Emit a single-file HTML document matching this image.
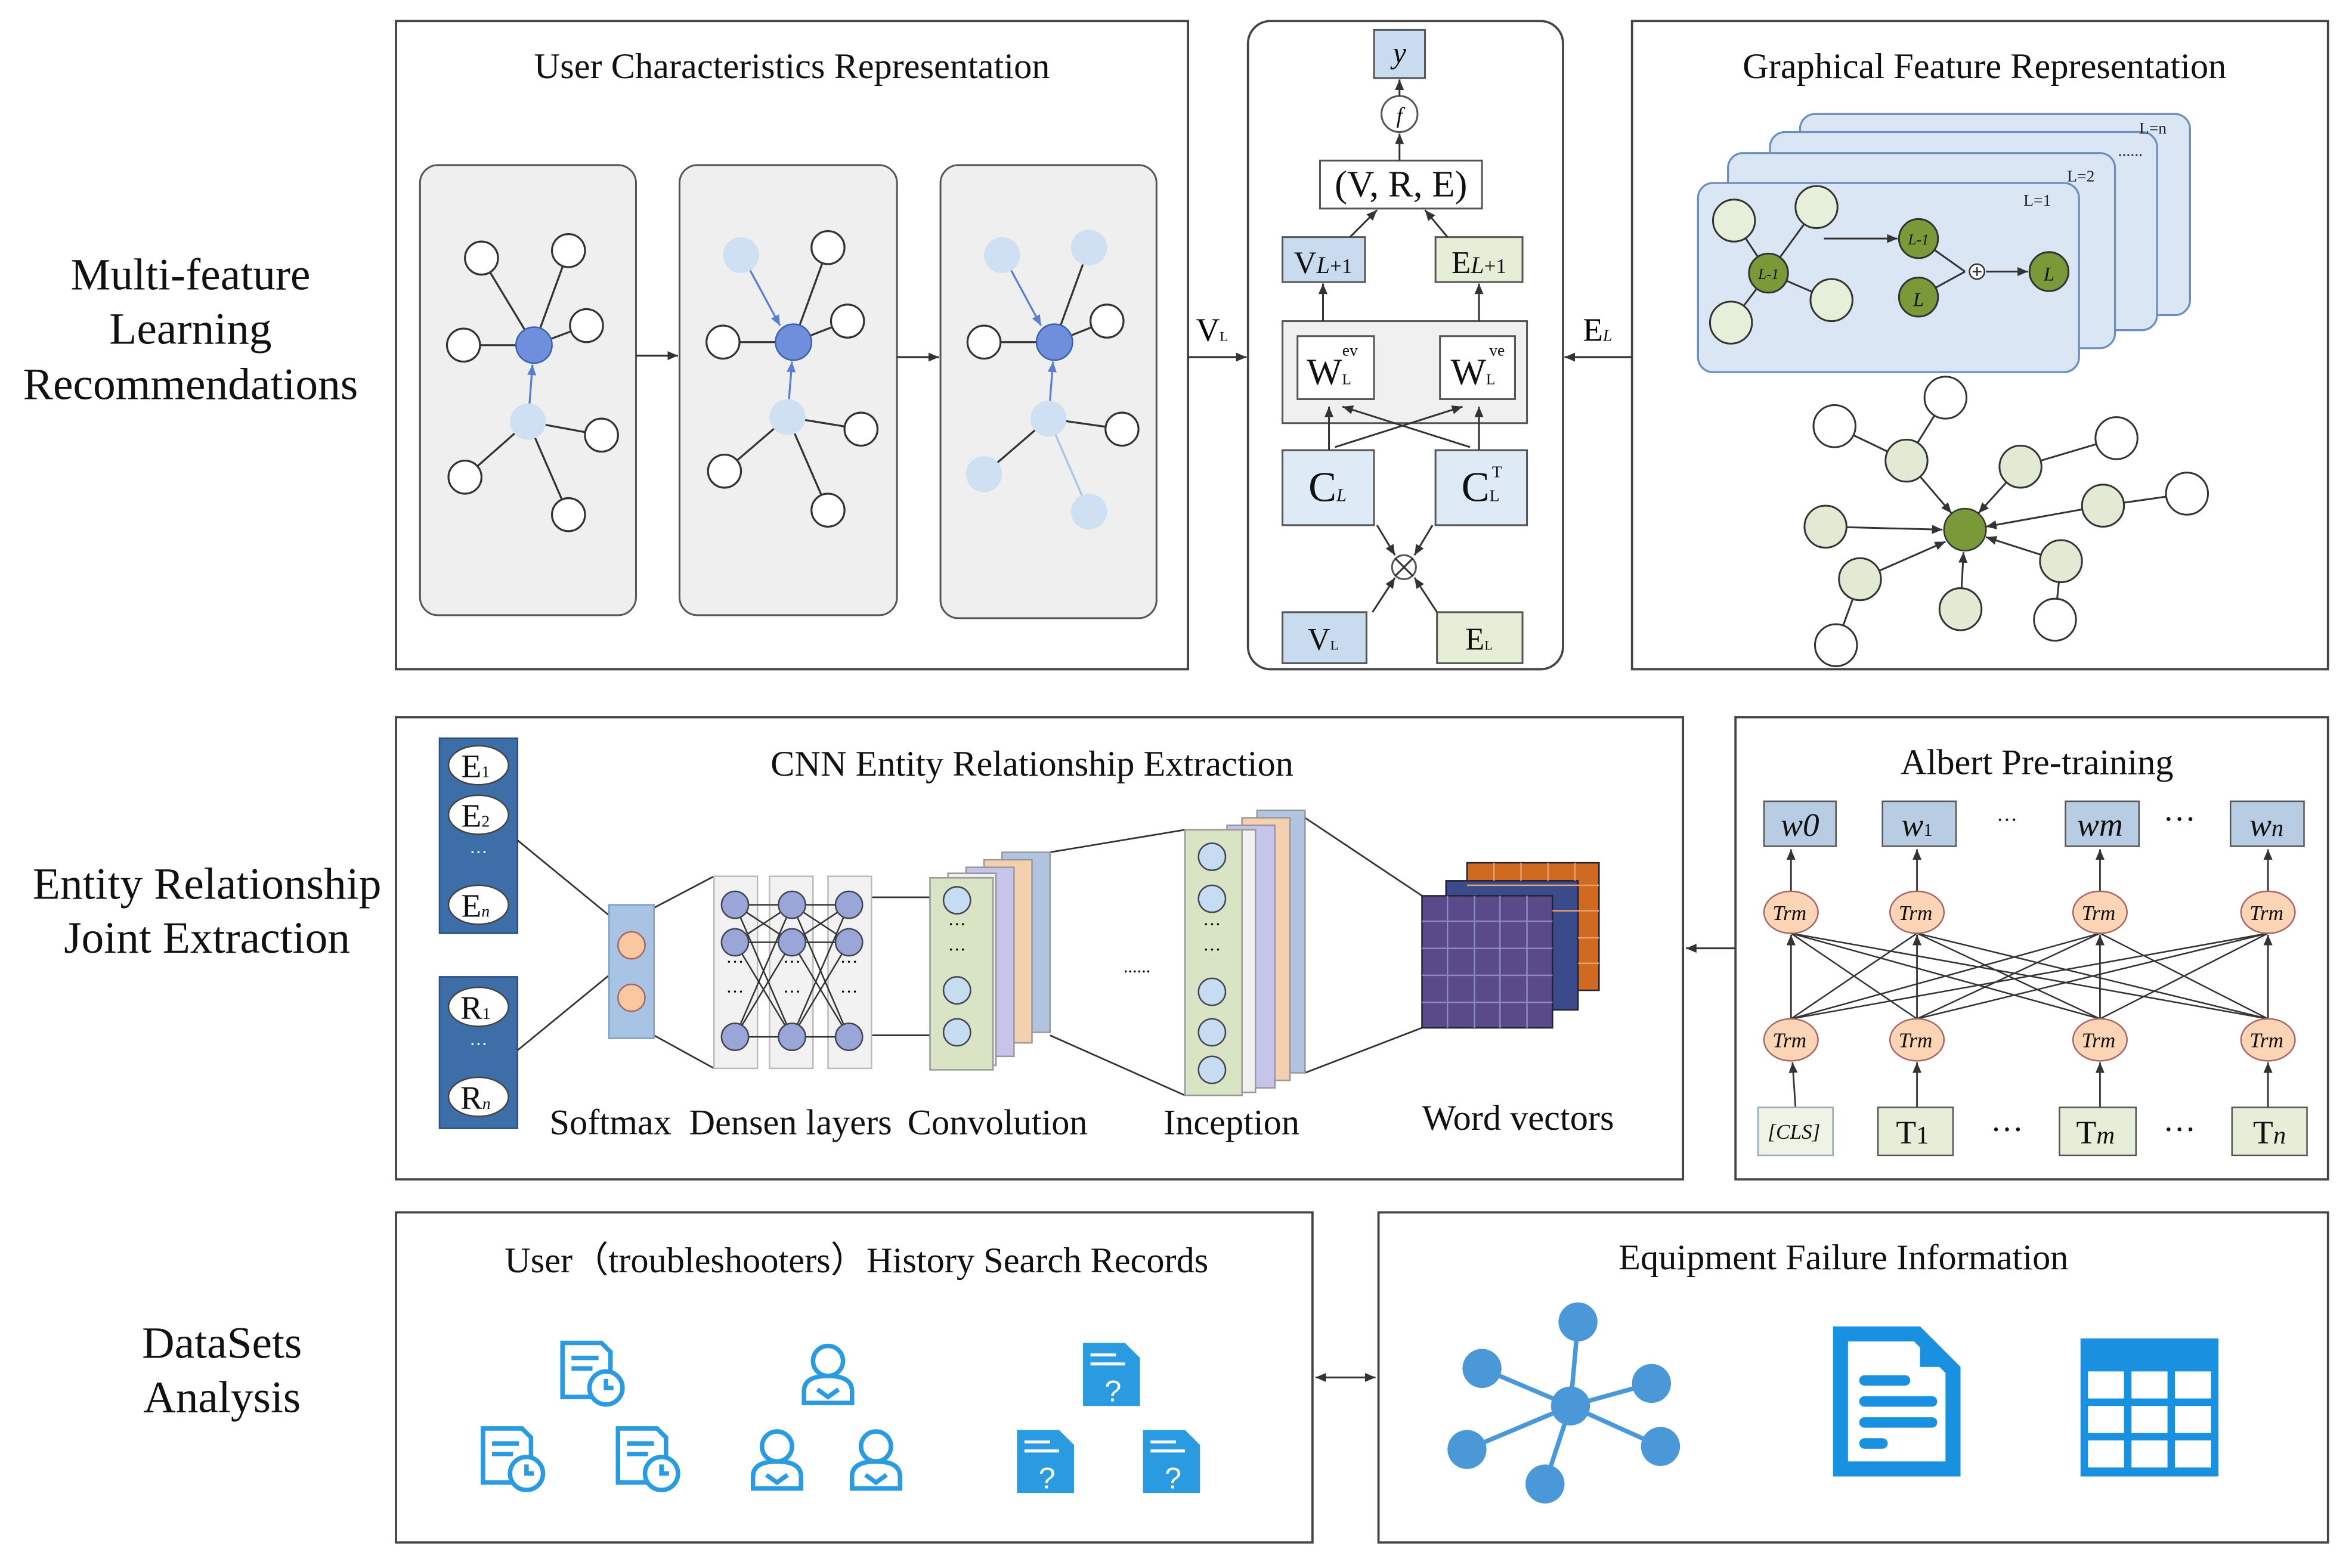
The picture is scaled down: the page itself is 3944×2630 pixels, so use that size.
<!DOCTYPE html>
<html><head><meta charset="utf-8"><style>html,body{margin:0;padding:0;background:#fff}svg{display:block}</style></head>
<body>
<svg width="3944" height="2630" viewBox="0 0 1568 1045" preserveAspectRatio="none" xmlns="http://www.w3.org/2000/svg" font-family="Liberation Serif, serif">
<defs>
<marker id="a" markerWidth="8" markerHeight="8" refX="7" refY="4" orient="auto" markerUnits="userSpaceOnUse"><path d="M0,1 L7,4 L0,7 z" fill="#333"/></marker>
<marker id="ab" markerWidth="8" markerHeight="8" refX="7" refY="4" orient="auto" markerUnits="userSpaceOnUse"><path d="M0,1 L7,4 L0,7 z" fill="#5a7fd0"/></marker>
<marker id="as" markerWidth="8" markerHeight="8" refX="1" refY="4" orient="auto" markerUnits="userSpaceOnUse"><path d="M8,1 L1,4 L8,7 z" fill="#333"/></marker>
</defs>
<g font-size="30" text-anchor="middle" fill="#111">
<text x="127" y="193">Multi-feature</text><text x="127" y="229">Learning</text><text x="127" y="266">Recommendations</text>
<text x="138" y="599">Entity Relationship</text><text x="138" y="635">Joint Extraction</text>
<text x="148" y="905">DataSets</text><text x="148" y="941">Analysis</text>
</g>
<g fill="none" stroke="#444" stroke-width="1.5">
<rect x="264" y="14" width="528" height="432"/>
<rect x="832" y="14" width="210" height="432" rx="15"/>
<rect x="1088" y="14" width="464" height="432"/>
<rect x="264" y="478" width="858" height="308"/>
<rect x="1157" y="478" width="395" height="308"/>
<rect x="264" y="808" width="611" height="220"/>
<rect x="919" y="808" width="633" height="220"/>
</g>
<g font-size="24" text-anchor="middle" fill="#111">
<text x="528" y="52">User Characteristics Representation</text>
<text x="1323" y="52">Graphical Feature Representation</text>
<text x="688" y="517">CNN Entity Relationship Extraction</text>
<text x="1358" y="516">Albert Pre-training</text>
<text x="571" y="848">User（troubleshooters）History Search Records</text>
<text x="1229" y="846">Equipment  Failure Information</text>
</g>
<g fill="#efefef" stroke="#555" stroke-width="1.2">
<rect x="280" y="110" width="144" height="300" rx="12"/>
<rect x="453" y="110" width="145" height="300" rx="12"/>
<rect x="627" y="110" width="144" height="302" rx="12"/>
</g>
<g stroke="#333" stroke-width="1.3">
<line x1="356" y1="230" x2="321" y2="172"/><line x1="356" y1="230" x2="379" y2="167"/><line x1="356" y1="230" x2="309" y2="230"/><line x1="356" y1="230" x2="391" y2="217"/>
<line x1="352" y1="281" x2="401" y2="290"/><line x1="352" y1="281" x2="310" y2="318"/><line x1="352" y1="281" x2="379" y2="343"/>
<line x1="529" y1="228" x2="552" y2="165"/><line x1="529" y1="228" x2="482" y2="228"/><line x1="529" y1="228" x2="565" y2="214"/>
<line x1="525" y1="278" x2="574" y2="286"/><line x1="525" y1="278" x2="483" y2="314"/><line x1="525" y1="278" x2="552" y2="340"/>
<line x1="703" y1="228" x2="726" y2="165"/><line x1="703" y1="228" x2="656" y2="228"/><line x1="703" y1="228" x2="738" y2="214"/>
<line x1="699" y1="279" x2="748" y2="286"/><line x1="699" y1="279" x2="656" y2="316"/>
</g>
<line x1="699" y1="279" x2="726" y2="341" stroke="#a8c4e6" stroke-width="1.3"/>
<g stroke="#5a7fd0" stroke-width="1.3" marker-end="url(#ab)">
<line x1="353" y1="269" x2="355" y2="243"/><line x1="526" y1="266" x2="528" y2="241"/><line x1="700" y1="267" x2="702" y2="241"/>
<line x1="500" y1="180" x2="520" y2="217"/><line x1="674" y1="180" x2="694" y2="217"/>
</g>
<g fill="#fff" stroke="#333" stroke-width="1.3">
<circle cx="321" cy="172" r="11"/><circle cx="379" cy="167" r="11"/><circle cx="309" cy="230" r="11"/><circle cx="391" cy="217" r="11"/><circle cx="401" cy="290" r="11"/><circle cx="310" cy="318" r="11"/><circle cx="379" cy="343" r="11"/>
<circle cx="552" cy="165" r="11"/><circle cx="482" cy="228" r="11"/><circle cx="565" cy="214" r="11"/><circle cx="574" cy="286" r="11"/><circle cx="483" cy="314" r="11"/><circle cx="552" cy="340" r="11"/>
<circle cx="656" cy="228" r="11"/><circle cx="738" cy="214" r="11"/><circle cx="748" cy="286" r="11"/>
</g>
<g fill="#cfe0f2">
<circle cx="352" cy="281" r="12"/><circle cx="525" cy="278" r="12"/><circle cx="494" cy="170" r="12"/>
<circle cx="699" cy="279" r="12"/><circle cx="668" cy="170" r="12"/><circle cx="726" cy="165" r="12"/><circle cx="656" cy="316" r="12"/><circle cx="726" cy="341" r="12"/>
</g>
<g fill="#6f8fdc" stroke="#3e5fae"><circle cx="356" cy="230" r="12"/><circle cx="529" cy="228" r="12"/><circle cx="703" cy="228" r="12"/></g>
<g stroke="#333" stroke-width="1.3" marker-end="url(#a)">
<line x1="424" y1="237" x2="452" y2="237"/><line x1="598" y1="238" x2="626" y2="238"/>
<line x1="792" y1="238" x2="831" y2="238"/><line x1="1088" y1="238" x2="1043" y2="238"/>
</g>
<text x="808" y="227" font-size="22" text-anchor="middle">V<tspan font-size="9">L</tspan></text>
<text x="1065" y="227" font-size="22" text-anchor="middle">E<tspan font-size="11" font-style="italic">L</tspan></text>
<g stroke="#555" stroke-width="1.2">
<rect x="916" y="20" width="34" height="32" fill="#c9dbef"/>
<circle cx="933" cy="76" r="12" fill="#fff"/>
<rect x="880" y="107" width="108" height="32" fill="#fff"/>
<rect x="855" y="158" width="55" height="30" fill="#c9dbef"/>
<rect x="957" y="158" width="58" height="30" fill="#e6eed8"/>
<rect x="855" y="214" width="163" height="68" fill="#f0f0f0"/>
<rect x="865" y="224" width="51" height="42" fill="#fff"/>
<rect x="960" y="224" width="50" height="42" fill="#fff"/>
<rect x="855" y="300" width="61" height="50" fill="#deeaf6"/>
<rect x="957" y="300" width="61" height="50" fill="#deeaf6"/>
<circle cx="936" cy="378" r="8" fill="#fff"/>
<rect x="855" y="408" width="56" height="34" fill="#c9dbef"/>
<rect x="958" y="408" width="57" height="34" fill="#e6eed8"/>
</g>
<g stroke="#333" stroke-width="1.2">
<line x1="930" y1="372" x2="942" y2="384"/><line x1="942" y1="372" x2="930" y2="384"/>
</g>
<g stroke="#333" stroke-width="1.2" marker-end="url(#a)">
<line x1="933" y1="64" x2="933" y2="53"/>
<line x1="933" y1="107" x2="933" y2="89"/>
<line x1="900" y1="158" x2="918" y2="140"/><line x1="965" y1="158" x2="950" y2="140"/>
<line x1="882" y1="214" x2="882" y2="189"/><line x1="986" y1="214" x2="986" y2="189"/>
<line x1="886" y1="300" x2="886" y2="271"/><line x1="986" y1="300" x2="986" y2="271"/>
<line x1="890" y1="298" x2="975" y2="271"/><line x1="980" y1="298" x2="895" y2="271"/>
<line x1="918" y1="350" x2="930" y2="370"/><line x1="955" y1="350" x2="943" y2="370"/>
<line x1="915" y1="408" x2="930" y2="385"/><line x1="958" y1="408" x2="943" y2="385"/>
</g>
<g text-anchor="middle" fill="#111">
<text x="933" y="42" font-size="20" font-style="italic">y</text>
<text x="933" y="82" font-size="15" font-style="italic">f</text>
<text x="934" y="131" font-size="25">(V, R, E)</text>
<text x="882" y="182" font-size="21">V<tspan font-style="italic" font-size="16">L</tspan><tspan font-size="14">+1</tspan></text>
<text x="986" y="182" font-size="21">E<tspan font-style="italic" font-size="16">L</tspan><tspan font-size="14">+1</tspan></text>
<text x="886" y="256" font-size="25">W<tspan font-size="10">L</tspan></text><text x="900" y="237" font-size="11">ev</text>
<text x="982" y="256" font-size="25">W<tspan font-size="10">L</tspan></text><text x="998" y="237" font-size="11">ve</text>
<text x="885" y="334" font-size="28">C<tspan font-size="12" font-style="italic">L</tspan></text>
<text x="987" y="334" font-size="28">C<tspan font-size="11">L</tspan></text><text x="998" y="318" font-size="11">T</text>
<text x="882" y="433" font-size="21">V<tspan font-size="9">L</tspan></text>
<text x="986" y="433" font-size="21">E<tspan font-size="9">L</tspan></text>
</g>
<g fill="#dae6f3" stroke="#6c8ebf" stroke-width="1.3">
<rect x="1200" y="76" width="260" height="134" rx="10"/>
<rect x="1180" y="88" width="258" height="132" rx="10"/>
<rect x="1152" y="102" width="258" height="130" rx="10"/>
<rect x="1132" y="122" width="254" height="126" rx="10"/>
</g>
<g font-size="11" fill="#222"><text x="1426" y="89">L=n</text><text x="1412" y="104">......</text><text x="1378" y="121">L=2</text><text x="1349" y="137">L=1</text></g>
<g stroke="#333" stroke-width="1.2">
<line x1="1179" y1="182" x2="1156" y2="147"/><line x1="1179" y1="182" x2="1211" y2="138"/><line x1="1179" y1="182" x2="1154" y2="215"/><line x1="1179" y1="182" x2="1221" y2="200"/>
<line x1="1279" y1="198" x2="1310" y2="181"/><line x1="1279" y1="159" x2="1310" y2="181"/>
</g>
<g stroke="#333" stroke-width="1.2" marker-end="url(#a)"><line x1="1216" y1="159" x2="1265" y2="159"/><line x1="1324" y1="181" x2="1352" y2="181"/></g>
<circle cx="1318" cy="181" r="5" fill="#fff" stroke="#333"/>
<line x1="1315" y1="181" x2="1321" y2="181" stroke="#333"/><line x1="1318" y1="178" x2="1318" y2="184" stroke="#333"/>
<g fill="#e6efd9" stroke="#333" stroke-width="1.2"><circle cx="1156" cy="147" r="14"/><circle cx="1211" cy="138" r="14"/><circle cx="1154" cy="215" r="14"/><circle cx="1221" cy="200" r="14"/></g>
<g fill="#7a9a3a" stroke="#333" stroke-width="1.2"><circle cx="1179" cy="182" r="13"/><circle cx="1279" cy="159" r="13"/><circle cx="1279" cy="198" r="13"/><circle cx="1366" cy="181" r="13"/></g>
<g font-size="13" font-style="italic" text-anchor="middle" fill="#111"><text x="1179" y="186" font-size="10">L-1</text><text x="1279" y="163" font-size="10">L-1</text><text x="1279" y="204">L</text><text x="1366" y="187">L</text></g>
<g stroke="#333" stroke-width="1.2">
<line x1="1271" y1="307" x2="1297" y2="265"/><line x1="1271" y1="307" x2="1223" y2="284"/><line x1="1347" y1="311" x2="1411" y2="292"/><line x1="1402" y1="337" x2="1458" y2="329"/><line x1="1374" y1="374" x2="1370" y2="413"/><line x1="1240" y1="386" x2="1224" y2="430"/>
</g>
<g stroke="#333" stroke-width="1.2" marker-end="url(#a)">
<line x1="1271" y1="307" x2="1301" y2="342"/><line x1="1347" y1="311" x2="1319" y2="342"/><line x1="1402" y1="337" x2="1324" y2="351"/><line x1="1374" y1="374" x2="1324" y2="358"/><line x1="1307" y1="406" x2="1309" y2="368"/><line x1="1240" y1="386" x2="1297" y2="361"/><line x1="1217" y1="351" x2="1295" y2="353"/>
</g>
<g fill="#e2ead4" stroke="#333" stroke-width="1.2"><circle cx="1271" cy="307" r="14"/><circle cx="1347" cy="311" r="14"/><circle cx="1402" cy="337" r="14"/><circle cx="1374" cy="374" r="14"/><circle cx="1307" cy="406" r="14"/><circle cx="1240" cy="386" r="14"/><circle cx="1217" cy="351" r="14"/></g>
<g fill="#fff" stroke="#333" stroke-width="1.2"><circle cx="1297" cy="265" r="14"/><circle cx="1223" cy="284" r="14"/><circle cx="1411" cy="292" r="14"/><circle cx="1458" cy="329" r="14"/><circle cx="1370" cy="413" r="14"/><circle cx="1224" cy="430" r="14"/></g>
<circle cx="1310" cy="353" r="14" fill="#7a9a3a" stroke="#333"/>
<rect x="293" y="492" width="52" height="130" fill="#3d6ea8" stroke="#2a4f80"/>
<rect x="293" y="651" width="52" height="101" fill="#3d6ea8" stroke="#2a4f80"/>
<g fill="#fff" stroke="#444"><ellipse cx="319" cy="510" rx="20" ry="13"/><ellipse cx="319" cy="543" rx="20" ry="13"/><ellipse cx="319" cy="603" rx="20" ry="13"/><ellipse cx="319" cy="671" rx="20" ry="13"/><ellipse cx="319" cy="731" rx="20" ry="13"/></g>
<g font-size="22" text-anchor="middle" fill="#111"><text x="317" y="518">E<tspan font-size="11">1</tspan></text><text x="317" y="551">E<tspan font-size="11">2</tspan></text><text x="317" y="611">E<tspan font-size="11" font-style="italic">n</tspan></text><text x="317" y="679">R<tspan font-size="11">1</tspan></text><text x="317" y="739">R<tspan font-size="11" font-style="italic">n</tspan></text></g>
<g fill="#fff" font-size="12" text-anchor="middle"><text x="319" y="572">···</text><text x="319" y="700">···</text></g>
<g stroke="#333" stroke-width="1.1" fill="none">
<line x1="345" y1="560" x2="406" y2="610"/><line x1="345" y1="700" x2="406" y2="650"/>
<line x1="436" y1="605" x2="476" y2="584"/><line x1="436" y1="690" x2="476" y2="712"/>
<line x1="581" y1="598" x2="620" y2="598"/><line x1="581" y1="690" x2="620" y2="690"/>
<line x1="700" y1="568" x2="790" y2="553"/><line x1="700" y1="690" x2="790" y2="730"/>
<line x1="870" y1="545" x2="948" y2="597"/><line x1="870" y1="715" x2="948" y2="685"/>
</g>
<rect x="406" y="603" width="30" height="89" fill="#a7c4e4" stroke="#7f9fc6"/>
<g fill="#f9c8a0" stroke="#a66"><circle cx="421" cy="630" r="9"/><circle cx="421" cy="665" r="9"/></g>
<g fill="#f2f2f2" stroke="#bbb"><rect x="476" y="584" width="29" height="128"/><rect x="513" y="584" width="29" height="128"/><rect x="552" y="584" width="29" height="128"/></g>
<g stroke="#333" stroke-width="1">
<line x1="490" y1="603" x2="528" y2="691"/><line x1="490" y1="691" x2="528" y2="603"/><line x1="490" y1="628" x2="528" y2="691"/><line x1="490" y1="691" x2="528" y2="628"/><line x1="490" y1="603" x2="528" y2="628"/><line x1="490" y1="628" x2="528" y2="603"/>
<line x1="528" y1="603" x2="566" y2="691"/><line x1="528" y1="691" x2="566" y2="603"/><line x1="528" y1="628" x2="566" y2="691"/><line x1="528" y1="691" x2="566" y2="628"/><line x1="528" y1="603" x2="566" y2="628"/><line x1="528" y1="628" x2="566" y2="603"/>
<line x1="490" y1="603" x2="566" y2="603"/><line x1="490" y1="628" x2="566" y2="628"/><line x1="490" y1="691" x2="566" y2="691"/>
</g>
<g fill="#9aa6d8" stroke="#445"><circle cx="490" cy="603" r="9"/><circle cx="490" cy="628" r="9"/><circle cx="490" cy="691" r="9"/><circle cx="528" cy="603" r="9"/><circle cx="528" cy="628" r="9"/><circle cx="528" cy="691" r="9"/><circle cx="566" cy="603" r="9"/><circle cx="566" cy="628" r="9"/><circle cx="566" cy="691" r="9"/></g>
<g font-size="12" text-anchor="middle"><text x="490" y="665">···</text><text x="528" y="665">···</text><text x="566" y="665">···</text><text x="490" y="645">···</text><text x="528" y="645">···</text><text x="566" y="645">···</text></g>
<g stroke="#999"><rect x="668" y="568" width="32" height="120" fill="#b0c4e0"/><rect x="656" y="573" width="32" height="122" fill="#f4cfb0"/><rect x="644" y="578" width="32" height="126" fill="#c6c4ea"/><rect x="632" y="582" width="32" height="128" fill="#f0f0f0"/><rect x="620" y="585" width="42" height="128" fill="#d9e4c4"/></g>
<g fill="#c6dcf0" stroke="#445"><circle cx="638" cy="600" r="9"/><circle cx="638" cy="660" r="9"/><circle cx="638" cy="688" r="9"/></g>
<g font-size="12" text-anchor="middle"><text x="638" y="620">···</text><text x="638" y="637">···</text></g>
<g stroke="#999"><rect x="838" y="540" width="32" height="175" fill="#b0c4e0"/><rect x="828" y="545" width="32" height="175" fill="#f4cfb0"/><rect x="818" y="550" width="32" height="175" fill="#c6c4ea"/><rect x="805" y="553" width="32" height="175" fill="#f0f0f0"/><rect x="790" y="553" width="38" height="177" fill="#d9e4c4"/></g>
<g fill="#c6dcf0" stroke="#445"><circle cx="808" cy="571" r="9"/><circle cx="808" cy="599" r="9"/><circle cx="808" cy="661" r="9"/><circle cx="808" cy="688" r="9"/><circle cx="808" cy="713" r="9"/></g>
<g font-size="12" text-anchor="middle"><text x="808" y="620">···</text><text x="808" y="637">···</text><text x="758" y="648">......</text></g>
<rect x="978" y="575" width="88" height="85" fill="#d06a20" stroke="#223"/>
<rect x="964" y="587" width="88" height="86" fill="#3a4a8a" stroke="#223"/>
<rect x="948" y="597" width="87" height="88" fill="#5a4a8a" stroke="#223"/>
<g stroke="#8a88c0" stroke-width="1"><line x1="948" y1="614" x2="1035" y2="614"/><line x1="948" y1="632" x2="1035" y2="632"/><line x1="948" y1="650" x2="1035" y2="650"/><line x1="948" y1="668" x2="1035" y2="668"/><line x1="965" y1="597" x2="965" y2="685"/><line x1="983" y1="597" x2="983" y2="685"/><line x1="1000" y1="597" x2="1000" y2="685"/><line x1="1018" y1="597" x2="1018" y2="685"/></g>
<g stroke="#e8a070" stroke-width="1"><line x1="978" y1="590" x2="1066" y2="590"/><line x1="1035" y1="607" x2="1066" y2="607"/><line x1="1052" y1="625" x2="1066" y2="625"/><line x1="1052" y1="642" x2="1066" y2="642"/><line x1="996" y1="575" x2="996" y2="587"/><line x1="1014" y1="575" x2="1014" y2="587"/><line x1="1032" y1="575" x2="1032" y2="587"/><line x1="1050" y1="575" x2="1050" y2="587"/></g>
<g font-size="24" text-anchor="middle" fill="#111"><text x="407" y="756">Softmax</text><text x="527" y="756">Densen layers</text><text x="665" y="756">Convolution</text><text x="821" y="756">Inception</text><text x="1012" y="753">Word vectors</text></g>
<line x1="1157" y1="632" x2="1124" y2="632" stroke="#333" stroke-width="1.2" marker-end="url(#a)"/>
<g stroke="#333" stroke-width="1">
<line x1="1194" y1="622" x2="1278" y2="679"/><line x1="1194" y1="622" x2="1400" y2="679"/><line x1="1194" y1="622" x2="1512" y2="679"/>
<line x1="1278" y1="622" x2="1194" y2="679"/><line x1="1278" y1="622" x2="1400" y2="679"/><line x1="1278" y1="622" x2="1512" y2="679"/>
<line x1="1400" y1="622" x2="1194" y2="679"/><line x1="1400" y1="622" x2="1278" y2="679"/><line x1="1400" y1="622" x2="1512" y2="679"/>
<line x1="1512" y1="622" x2="1194" y2="679"/><line x1="1512" y1="622" x2="1278" y2="679"/><line x1="1512" y1="622" x2="1400" y2="679"/>
</g>
<g stroke="#333" stroke-width="1.1" marker-end="url(#a)">
<line x1="1194" y1="594" x2="1194" y2="566"/><line x1="1278" y1="594" x2="1278" y2="566"/><line x1="1400" y1="594" x2="1400" y2="566"/><line x1="1512" y1="594" x2="1512" y2="566"/>
<line x1="1194" y1="679" x2="1194" y2="623"/><line x1="1278" y1="679" x2="1278" y2="623"/><line x1="1400" y1="679" x2="1400" y2="623"/><line x1="1512" y1="679" x2="1512" y2="623"/>
<line x1="1197" y1="738" x2="1195" y2="708"/><line x1="1278" y1="738" x2="1278" y2="708"/><line x1="1400" y1="738" x2="1400" y2="708"/><line x1="1512" y1="738" x2="1512" y2="708"/>
</g>
<g fill="#b8cde4" stroke="#555"><rect x="1176" y="534" width="48" height="30"/><rect x="1255" y="534" width="49" height="30"/><rect x="1377" y="534" width="49" height="30"/><rect x="1487" y="534" width="49" height="30"/></g>
<g fill="#fbd5b5" stroke="#a66"><ellipse cx="1194" cy="608" rx="18" ry="14"/><ellipse cx="1278" cy="608" rx="18" ry="14"/><ellipse cx="1400" cy="608" rx="18" ry="14"/><ellipse cx="1512" cy="608" rx="18" ry="14"/><ellipse cx="1194" cy="693" rx="18" ry="14"/><ellipse cx="1278" cy="693" rx="18" ry="14"/><ellipse cx="1400" cy="693" rx="18" ry="14"/><ellipse cx="1512" cy="693" rx="18" ry="14"/></g>
<g fill="#e6eed8" stroke="#555"><rect x="1172" y="738" width="50" height="32" fill="#eef3e6" stroke="#9ab"/><rect x="1252" y="738" width="50" height="32"/><rect x="1373" y="738" width="51" height="32"/><rect x="1488" y="738" width="50" height="32"/></g>
<g text-anchor="middle" fill="#111" font-style="italic">
<text x="1200" y="557" font-size="22">w0</text><text x="1278" y="557" font-size="22">w<tspan font-size="12" font-style="normal">1</tspan></text><text x="1400" y="557" font-size="22">wm</text><text x="1511" y="557" font-size="22">w<tspan font-size="16">n</tspan></text>
<g font-size="14"><text x="1193" y="613">Trm</text><text x="1277" y="613">Trm</text><text x="1399" y="613">Trm</text><text x="1511" y="613">Trm</text><text x="1193" y="698">Trm</text><text x="1277" y="698">Trm</text><text x="1399" y="698">Trm</text><text x="1511" y="698">Trm</text></g>
<text x="1196" y="759" font-size="14">[CLS]</text>
</g>
<g text-anchor="middle" fill="#111" font-size="22"><text x="1275" y="762">T<tspan font-size="17">1</tspan></text><text x="1397" y="762">T<tspan font-size="17" font-style="italic">m</tspan></text><text x="1513" y="762">T<tspan font-size="17" font-style="italic">n</tspan></text>
<text x="1338" y="551" font-size="14">···</text><text x="1453" y="553">···</text><text x="1338" y="760">···</text><text x="1453" y="760">···</text></g>
<line x1="877" y1="918" x2="917" y2="918" stroke="#333" stroke-width="1.2" marker-end="url(#a)" marker-start="url(#as)"/>
<g fill="none" stroke="#2a9be0" stroke-width="3">
<g id="cal"><path d="M375,895 h26 l6,6 v30 h-32 z"/><line x1="381" y1="905" x2="399" y2="905"/><line x1="381" y1="912" x2="395" y2="912"/><circle cx="404" cy="925" r="11" fill="#fff"/><path d="M404,919 v6 h5"/></g>
<use href="#cal" x="-53" y="57"/><use href="#cal" x="37" y="57"/>
<g id="usr"><circle cx="552" cy="907" r="10"/><path d="M536,935 v-8 q0,-10 16,-10 q16,0 16,10 v8 z"/><path d="M545,926 l7,5 l7,-5"/></g>
<use href="#usr" x="-34" y="57"/><use href="#usr" x="32" y="57"/>
</g>
<g fill="#2a9be0">
<g id="doc"><path d="M722,895 h28 l10,10 v32 h-38 z"/></g>
<use href="#doc" x="-44" y="58"/><use href="#doc" x="40" y="58"/>
</g>
<g fill="#fff" font-size="20" font-family="Liberation Sans, sans-serif" text-anchor="middle"><text x="742" y="934">?</text><text x="698" y="992">?</text><text x="782" y="992">?</text></g>
<g stroke="#fff" stroke-width="2"><line x1="727" y1="903" x2="744" y2="903"/><line x1="727" y1="909" x2="750" y2="909"/><line x1="683" y1="961" x2="700" y2="961"/><line x1="683" y1="967" x2="706" y2="967"/><line x1="767" y1="961" x2="784" y2="961"/><line x1="767" y1="967" x2="790" y2="967"/></g>
<g stroke="#4a98d8" stroke-width="3"><line x1="1047" y1="937" x2="1052" y2="881"/><line x1="1047" y1="937" x2="988" y2="912"/><line x1="1047" y1="937" x2="1101" y2="922"/><line x1="1047" y1="937" x2="978" y2="966"/><line x1="1047" y1="937" x2="1107" y2="964"/><line x1="1047" y1="937" x2="1030" y2="989"/></g>
<g fill="#4a98d8"><circle cx="1052" cy="881" r="13"/><circle cx="988" cy="912" r="13"/><circle cx="1101" cy="922" r="13"/><circle cx="1047" cy="937" r="13"/><circle cx="978" cy="966" r="13"/><circle cx="1107" cy="964" r="13"/><circle cx="1030" cy="989" r="13"/></g>
<path d="M1222,884 h58 l27,27 v73 h-85 z" fill="#1a90e0"/>
<path d="M1232,894 h44 l21,21 v59 h-65 z" fill="#fff"/>
<path d="M1280,884 v27 h27 z" fill="#1a90e0"/>
<g stroke="#1a90e0" stroke-width="7" stroke-linecap="round"><line x1="1243" y1="920" x2="1270" y2="920"/><line x1="1243" y1="934" x2="1288" y2="934"/><line x1="1243" y1="948" x2="1288" y2="948"/><line x1="1243" y1="962" x2="1255" y2="962"/></g>
<rect x="1387" y="892" width="92" height="92" fill="#1a90e0"/>
<g fill="#fff"><rect x="1392" y="914" width="24" height="18"/><rect x="1421" y="914" width="24" height="18"/><rect x="1450" y="914" width="24" height="18"/><rect x="1392" y="937" width="24" height="18"/><rect x="1421" y="937" width="24" height="18"/><rect x="1450" y="937" width="24" height="18"/><rect x="1392" y="960" width="24" height="18"/><rect x="1421" y="960" width="24" height="18"/><rect x="1450" y="960" width="24" height="18"/></g>
</svg>
</body></html>
